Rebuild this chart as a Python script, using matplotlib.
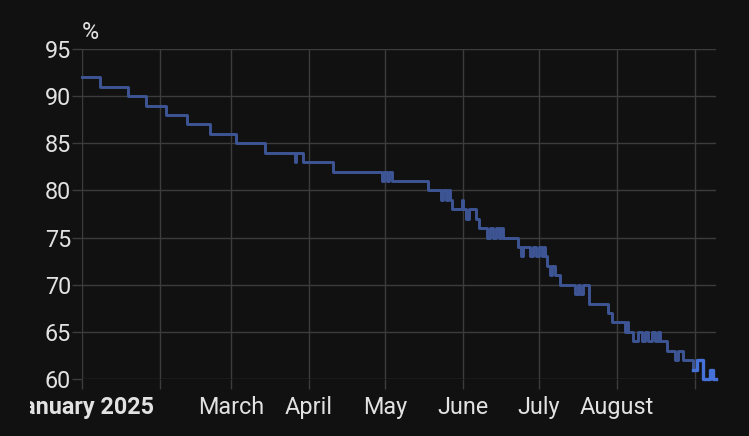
import matplotlib
matplotlib.use('Agg')
import matplotlib.pyplot as plt
import pandas as pd
from matplotlib.transforms import Bbox

plt.rcParams['font.family'] = ['Roboto', 'DejaVu Sans']

# long-term statistics part (drawn faded)
statTimes = ['2025-01-01 00:00', '2025-01-08 03:00', '2025-01-19 06:00', '2025-01-26 09:00',
             '2025-02-03 07:00', '2025-02-11 15:00', '2025-02-20 18:00', '2025-03-03 01:00',
             '2025-03-14 13:00', '2025-03-26 10:00', '2025-03-27 00:00', '2025-03-29 15:00',
             '2025-04-10 12:00', '2025-04-29 22:00', '2025-04-30 17:00', '2025-05-01 17:00',
             '2025-05-02 12:00', '2025-05-03 17:00', '2025-05-18 05:00', '2025-05-23 07:00',
             '2025-05-24 02:00', '2025-05-25 02:00', '2025-05-26 02:00', '2025-05-26 22:00',
             '2025-05-27 16:00', '2025-05-31 14:00', '2025-06-01 05:00', '2025-06-02 05:00',
             '2025-06-03 10:00', '2025-06-06 00:00', '2025-06-07 10:00', '2025-06-10 12:00',
             '2025-06-11 17:00', '2025-06-12 22:00', '2025-06-14 03:00', '2025-06-15 08:00',
             '2025-06-16 03:00', '2025-06-16 22:00', '2025-06-22 19:00', '2025-06-24 00:00',
             '2025-06-24 19:00', '2025-06-27 14:00', '2025-06-28 19:00', '2025-06-30 00:00',
             '2025-07-01 05:00', '2025-07-02 07:00', '2025-07-03 02:00', '2025-07-03 17:00',
             '2025-07-04 07:00', '2025-07-05 12:00', '2025-07-06 07:00', '2025-07-07 07:00',
             '2025-07-09 12:00', '2025-07-15 10:00', '2025-07-16 10:00', '2025-07-17 10:00',
             '2025-07-18 14:00', '2025-07-21 00:00', '2025-07-28 12:00', '2025-07-30 02:00',
             '2025-08-04 07:00', '2025-08-05 00:00', '2025-08-05 14:00', '2025-08-07 10:00',
             '2025-08-09 10:00', '2025-08-11 00:00', '2025-08-12 05:00', '2025-08-13 09:00',
             '2025-08-15 00:00', '2025-08-16 03:00', '2025-08-17 03:00', '2025-08-18 03:00',
             '2025-08-20 22:00', '2025-08-23 23:00', '2025-08-25 04:00', '2025-08-27 04:00',
             '2025-08-31 05:00']
statValues = [92, 91, 90, 89,
              88, 87, 86, 85,
              84, 83, 84, 83,
              82, 81, 82, 81,
              82, 81, 80, 79,
              80, 79, 80, 79,
              78, 79, 78, 77,
              78, 77, 76, 75,
              76, 75, 76, 75,
              76, 75, 74, 73,
              74, 73, 74, 73,
              74, 73, 74, 73,
              72, 71, 72, 71,
              70, 69, 70, 69,
              70, 68, 67, 66,
              65, 66, 65, 64,
              65, 64, 65, 64,
              65, 64, 65, 64,
              63, 62, 63, 62,
              61]

# recent history part (full colour)
recentTimes = ['2025-08-31 05:00', '2025-09-01 19:00', '2025-09-04 05:00', '2025-09-07 00:00',
               '2025-09-08 02:00', '2025-09-09 07:00']
recentValues = [61, 62, 60, 61, 60, 60]

monthTicks = pd.date_range('2025-01-01', '2025-09-01', freq='MS')
monthLabels = ['January 2025', '', 'March', 'April', 'May', 'June', 'July', 'August', '']
yTicks = [60, 65, 70, 75, 80, 85, 90, 95]

bg = '#111111'
gridc = '#3c3c3c'
txtc = '#e2e2e2'

fig = plt.figure(figsize=(7.49, 4.36), dpi=100, facecolor=bg)
ax = fig.add_axes([82/749, 1-379/436, (716-82)/749, (379-49)/436])
ax.set_facecolor(bg)

ax.plot(pd.to_datetime(statTimes), statValues, drawstyle='steps-post',
        color='#3d5595', lw=2.1, clip_on=False, zorder=3)
ax.plot(pd.to_datetime(recentTimes), recentValues, drawstyle='steps-post',
        color='#4671d8', lw=2.4, clip_on=False, zorder=4)

ax.set_xlim(pd.Timestamp('2025-01-01'), pd.Timestamp(recentTimes[-1]))
ax.set_ylim(60, 95)
ax.set_yticks(yTicks)
ax.set_xticks(monthTicks)
ax.set_xticklabels(monthLabels)

for s in ax.spines.values():
    s.set_visible(False)
ax.grid(True, color=gridc, lw=1)
ax.set_axisbelow(True)
ax.tick_params(axis='both', colors=gridc, length=7, width=1, labelsize=16.8, labelcolor=txtc)
ax.tick_params(axis='x', pad=5)
ax.tick_params(axis='y', pad=1)

first = ax.get_xticklabels()[0]
first.set_fontweight('bold')
first.set_clip_box(Bbox.from_extents(30, 0, 749, 436))
first.set_clip_on(True)

fig.text(82/749, 1-44/436, '%', color=txtc, fontsize=16.8, ha='left', va='bottom')

fig.savefig('out.png', dpi=100, facecolor=bg)
